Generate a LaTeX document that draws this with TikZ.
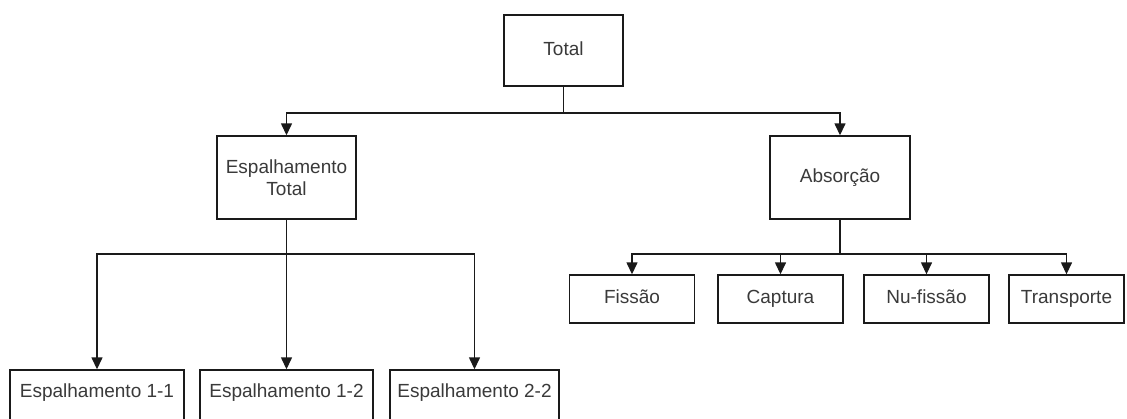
\documentclass[tikz,border=0pt]{standalone}
\usepackage{fontspec}
\setmainfont{Liberation Sans}
\usetikzlibrary{arrows.meta}
\definecolor{txt}{HTML}{3A3A3A}
\definecolor{ln}{HTML}{1A1A1A}
\tikzset{
  lbl/.style={font=\fontsize{19}{22}\selectfont, text=txt, align=center},
  box/.style={lbl, draw=ln, line width=1.4pt, fill=white, inner sep=0pt},
  onerow/.style={text height=13.5pt, text depth=4pt},
  link/.style={draw=ln, line width=1.4pt},
  arr/.style={link, -{Triangle[width=11pt,length=12pt]}},
}
\begin{document}
\begin{tikzpicture}[x=1pt,y=-1pt]
\useasboundingbox (0,0) rectangle (1127,418);
\clip (0,0) rectangle (1127,418);
\fill[white] (0,0) rectangle (1127,418);

% top level
\node[box, onerow, minimum width=119pt, minimum height=71pt] (total) at (563.5,50.5) {Total};

% second level
\node[box, minimum width=139pt, minimum height=83pt] (esp) at (286.5,177.5) {Espalhamento\\Total};
\node[box, onerow, minimum width=140pt, minimum height=83pt] (abs) at (840,177.5) {Absorção};

% scattering children (running off the lower edge)
\node[box, minimum width=174pt, minimum height=80pt] (e11) at (97,410) {};
\node[box, minimum width=173pt, minimum height=80pt] (e12) at (286.5,410) {};
\node[box, minimum width=169pt, minimum height=80pt] (e22) at (474.5,410) {};
\node[lbl, onerow] (t11) at (97,393) {Espalhamento 1-1};
\node[lbl, onerow] (t12) at (286.5,393) {Espalhamento 1-2};
\node[lbl, onerow] (t22) at (474.5,393) {Espalhamento 2-2};

% absorption children
\node[box, onerow, minimum width=125pt, minimum height=48pt] (fis) at (632,299) {Fissão};
\node[box, onerow, minimum width=125pt, minimum height=48pt] (cap) at (780.5,299) {Captura};
\node[box, onerow, minimum width=125pt, minimum height=48pt] (nuf) at (926.5,299) {Nu-fissão};
\node[box, onerow, minimum width=115pt, minimum height=48pt] (tra) at (1066.5,299) {Transporte};

% junctions
\coordinate (j0) at (563.5,113);
\coordinate (j1) at (286.5,254);
\coordinate (j2) at (840,254);

\draw[link] (total.south) -- (j0);
\draw[arr] (j0) -| (esp.north);
\draw[arr] (j0) -| (abs.north);

\draw[link] (esp.south) -- (j1);
\draw[arr] (j1) -| (e11.north);
\draw[arr] (j1) -- (e12.north);
\draw[arr] (j1) -| (e22.north);

\draw[link] (abs.south) -- (j2);
\draw[arr] (j2) -| (fis.north);
\draw[arr] (j2) -| (cap.north);
\draw[arr] (j2) -| (nuf.north);
\draw[arr] (j2) -| (tra.north);
\end{tikzpicture}
\end{document}
